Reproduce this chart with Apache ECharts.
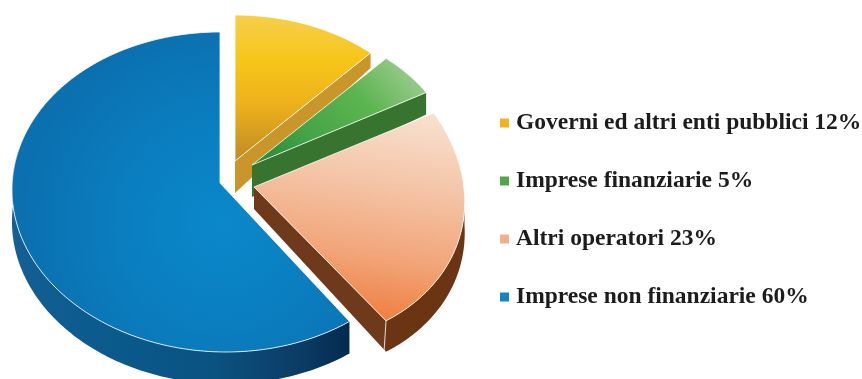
<!DOCTYPE html>
<html>
<head>
<meta charset="utf-8">
<style>html,body{margin:0;padding:0;background:#fff}#chart{width:862px;height:379px}</style>
<script src="https://cdn.jsdelivr.net/npm/echarts@6/dist/echarts.min.js"></script>
</head>
<body>
<div id="chart"></div>
<script>
// Sector shares, clockwise from twelve o'clock
var categories = ['Governi ed altri enti pubblici', 'Imprese finanziarie', 'Altri operatori', 'Imprese non finanziarie'];
var shares = [12, 5, 23, 60];

// Tilted-disc geometry of each exploded wedge: ellipse with optional shear (p, q), apex, wall depths
var wedgeShapes = [
  {cx: 235, cy: 155, rx: 198, ry: 140, p: 0, q: 0, ax: 235, ay: 161, apexDepth: 32, rimDepth: 15},
  {cx: 243, cy: 159, rx: 209, ry: 138, p: 0, q: 0, ax: 252, ay: 165, apexDepth: 32, rimDepth: 22},
  {cx: 254.5, cy: 179, rx: 210, ry: 164.4, p: -10, q: 15, ax: 254, ay: 187, apexDepth: 22, rimDepth: 31, rimTo: 90},
  {cx: 223, cy: 192, rx: 211, ry: 160, p: -3, q: 0, ax: 220, ay: 183, apexDepth: 0, rimDepth: 32, rimTo: 285}
];

var G = echarts.graphic;
function stops(list) {
  return list.map(function (c) { return {offset: c[0], color: c[1]}; });
}
var topFills = [
  new G.LinearGradient(0.1, 0, 0.1, 1, stops([[0, '#f6cf4c'], [0.3, '#f7c61a'], [0.6, '#eeb21c'], [1, '#bf8a24']])),
  new G.LinearGradient(0.8, 0, 0.1, 1, stops([[0, '#93c886'], [0.3, '#5cb550'], [0.7, '#45a446'], [1, '#2c8a3a']])),
  new G.LinearGradient(0.7, 0, 0.55, 1, stops([[0, '#f8e0ce'], [0.35, '#f4c4a6'], [0.7, '#f2a478'], [1, '#ef7d3e']])),
  new G.RadialGradient(0.62, 0.6, 0.62, stops([[0, '#0a88cb'], [0.55, '#0a7dbe'], [1, '#0b70b0']]))
];
var sideFills = ['#c9962a', '#37742f', '#6f3a1b', '#0d5c8e'];
var rimFills = [
  null, null, '#6b3514',
  new G.LinearGradient(0, 0, 1, 0, stops([[0, '#145f94'], [0.3, '#0a5a8c'], [0.6, '#0a5280'], [0.85, '#0c3c66'], [1, '#032a4e']]))
];
var legendColors = ['#f0b21e', '#53a54a', '#f0b08c', '#1484c6'];
var edgeColor = 'rgba(255,255,255,0.8)';

var total = shares.reduce(function (a, b) { return a + b; }, 0);

function point(s, deg, drop) {
  var r = deg * Math.PI / 180, sin = Math.sin(r), cos = Math.cos(r);
  return [s.cx + s.rx * sin + s.p * cos, s.cy - s.ry * cos + s.q * sin + drop];
}
function arc(s, from, to, drop) {
  var out = [], n = Math.max(8, Math.ceil(Math.abs(to - from)));
  for (var i = 0; i <= n; i++) out.push(point(s, from + (to - from) * i / n, drop));
  return out;
}

function wedgeRenderer(idx) {
  return function (params, api) {
    var s = wedgeShapes[idx];
    var before = shares.slice(0, idx).reduce(function (a, b) { return a + b; }, 0);
    var start = before / total * 360;
    var end = start + api.value(0) / total * 360;
    var children = [];
    var corner = point(s, idx === 3 ? start : end, 0);

    // cut face running from the apex out to the clockwise edge of the wedge
    if (idx !== 3) {
      children.push({
        type: 'polygon',
        shape: {points: [[s.ax, s.ay], corner, [corner[0], corner[1] + s.rimDepth], [s.ax, s.ay + s.apexDepth]]},
        style: {fill: sideFills[idx]}
      });
    }
    // curved outer wall, visible only on the front half
    if (rimFills[idx]) {
      var from = idx === 3 ? start : s.rimTo;
      var to = idx === 3 ? s.rimTo : end;
      children.push({
        type: 'polygon',
        shape: {points: arc(s, from, to, 0).concat(arc(s, to, from, s.rimDepth))},
        style: {fill: rimFills[idx]}
      });
    }
    // highlight on the front corner
    if (idx === 2) {
      children.push({
        type: 'line',
        shape: {x1: corner[0], y1: corner[1], x2: corner[0] - 2, y2: corner[1] + s.rimDepth},
        style: {stroke: edgeColor, lineWidth: 1}
      });
    }
    // top surface
    children.push({
      type: 'polygon',
      shape: {points: [[s.ax, s.ay]].concat(arc(s, start, end, 0))},
      style: {fill: topFills[idx], stroke: edgeColor, lineWidth: 1, lineJoin: 'round'}
    });
    return {type: 'group', children: children};
  };
}

var labels = categories.map(function (c, i) { return c + ' ' + shares[i] + '%'; });

var chart = echarts.init(document.getElementById('chart'), null, {renderer: 'canvas', width: 862, height: 379});
chart.setOption({
  backgroundColor: '#fff',
  animation: false,
  legend: {
    orient: 'vertical',
    left: 496,
    top: 107,
    padding: 4,
    itemWidth: 9,
    itemHeight: 9,
    itemGap: 34,
    icon: 'rect',
    data: labels.map(function (n, i) { return {name: n, itemStyle: {color: legendColors[i]}}; }),
    textStyle: {fontFamily: '"Liberation Serif", serif', fontWeight: 'bold', fontSize: 23.5, color: '#1c1c1c', lineHeight: 22, padding: [0, 0, 0, 2]}
  },
  series: labels.map(function (n, i) {
    return {
      type: 'custom',
      name: n,
      coordinateSystem: 'none',
      silent: true,
      z: 2 + i,
      itemStyle: {color: legendColors[i]},
      data: [[shares[i]]],
      renderItem: wedgeRenderer(i)
    };
  })
});
</script>
</body>
</html>
